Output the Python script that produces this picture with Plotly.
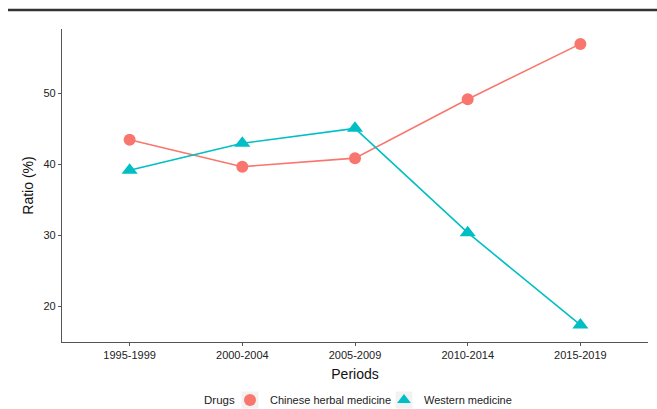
import plotly.graph_objects as go

periods = ["1995-1999", "2000-2004", "2005-2009", "2010-2014", "2015-2019"]
chinese_herbal = [43.5, 39.7, 40.9, 49.2, 57.0]
western = [39.2, 43.0, 45.1, 30.4, 17.4]
y_ticks = [20, 30, 40, 50]

RED = "#F8766D"
CYAN = "#00BFC4"
FONT = "Liberation Sans, Arial, sans-serif"

series = [
    ("Chinese herbal medicine", chinese_herbal, RED, "circle", 12),
    ("Western medicine", western, CYAN, "triangle-up", 14),
]

fig = go.Figure()
for name, values, color, symbol, size in series:
    fig.add_trace(go.Scatter(
        x=periods, y=values, mode="lines+markers", name=name,
        line=dict(color=color, width=1.6),
        marker=dict(symbol=symbol, size=size, color=color),
        showlegend=False,
    ))
# legend keys show the marker only
for name, values, color, symbol, size in series:
    fig.add_trace(go.Scatter(
        x=[None], y=[None], mode="markers", name=name,
        marker=dict(symbol=symbol, size=size - 1, color=color),
        showlegend=True,
    ))

PLOT_L, PLOT_W, PLOT_B, PLOT_H = 62, 586, 342, 313


def px_x(p):
    return (p - PLOT_L) / PLOT_W


def px_y(p):
    return (PLOT_B - p) / PLOT_H


# light grey key panels behind the legend symbols
key_boxes = []
for cx in (250, 404):
    key_boxes.append(dict(
        type="rect", xref="paper", yref="paper", layer="below",
        x0=px_x(cx - 8.5), x1=px_x(cx + 8.5),
        y0=px_y(400 + 8.5), y1=px_y(400 - 8.5),
        fillcolor="#F2F2F2", line=dict(width=0),
    ))

fig.update_layout(
    width=657, height=409,
    margin=dict(l=62, r=9, t=29, b=67, autoexpand=False),
    paper_bgcolor="white", plot_bgcolor="white",
    font=dict(family=FONT, color="#222", size=11),
    legend=dict(
        orientation="h", x=px_x(230), xanchor="left", y=px_y(400), yanchor="middle",
        font=dict(size=11, color="#222"), bgcolor="rgba(0,0,0,0)",
        itemsizing="constant", tracegroupgap=0, itemwidth=30,
        entrywidth=109,
    ),
    annotations=[dict(
        text="Drugs", xref="paper", yref="paper", x=px_x(219), y=px_y(400),
        xanchor="center", yanchor="middle", showarrow=False,
        font=dict(size=11.5, color="#222"),
    )],
    shapes=[dict(
        type="line", xref="paper", yref="paper",
        x0=px_x(8), x1=px_x(660), y0=px_y(10), y1=px_y(10),
        line=dict(color="#333", width=2.5),
    )] + key_boxes,
)

fig.update_xaxes(
    type="category", range=[-0.6, 4.6],
    showline=True, linecolor="#555", linewidth=1.2,
    ticks="outside", ticklen=3, tickcolor="#555",
    showgrid=False, zeroline=False,
    tickfont=dict(size=11, color="#222"),
    title=dict(text="Periods", font=dict(size=14, color="#111"), standoff=8),
)
fig.update_yaxes(
    range=[15.0, 59.1], tickvals=y_ticks,
    showline=True, linecolor="#555", linewidth=1.2,
    ticks="outside", ticklen=3, tickcolor="#555",
    showgrid=False, zeroline=False,
    tickfont=dict(size=11, color="#222"),
    title=dict(text="Ratio (%)", font=dict(size=14, color="#111"), standoff=6),
)

fig.write_html("out.html")
